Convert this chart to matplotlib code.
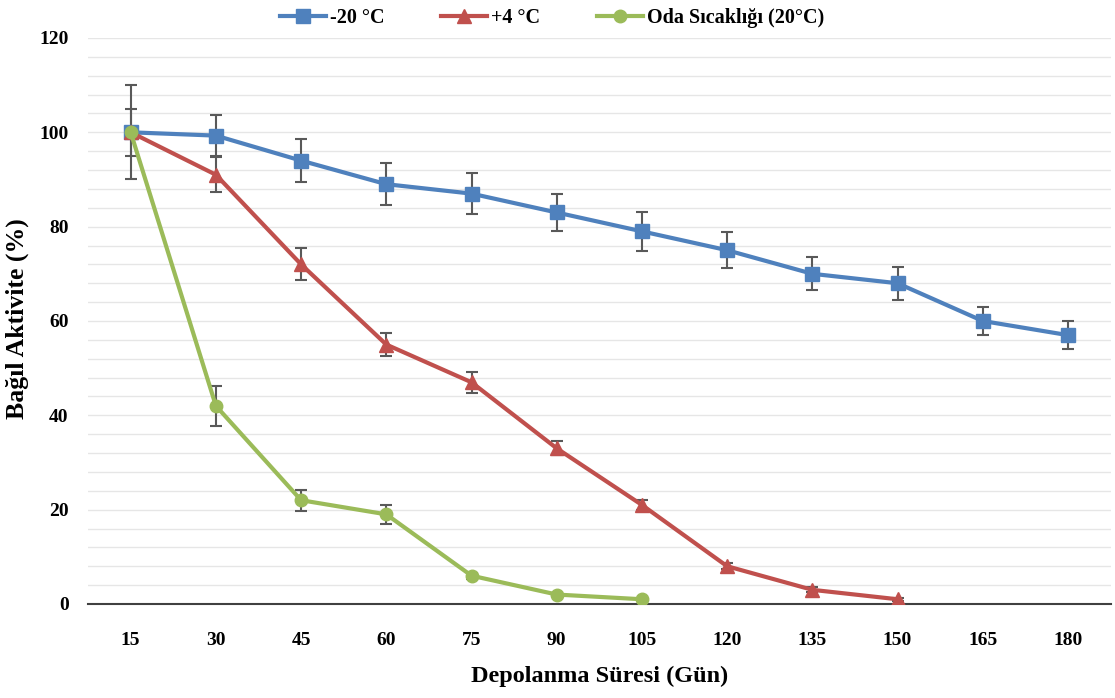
import numpy as np
import matplotlib.pyplot as plt

# depolanma süresi (gün)
days = ['15', '30', '45', '60', '75', '90', '105', '120', '135', '150', '165', '180']

# -20 °C
blue_vals = [100, 99.3, 94, 89, 87, 83, 79, 75, 70, 68, 60, 57]
blue_err = [5, 4.3, 4.6, 4.4, 4.3, 4.0, 4.1, 3.8, 3.5, 3.5, 3.0, 3.0]
# +4 °C
red_vals = [100, 91, 72, 55, 47, 33, 21, 8, 3, 1]
red_err = [10, 3.7, 3.4, 2.5, 2.2, 1.5, 1.0, 0.6, 0.5, 0.3]
# oda sıcaklığı
green_vals = [100, 42, 22, 19, 6, 2, 1]
green_err = [0, 4.3, 2.2, 2.0, 0.6, 0.4, 0.3]

plt.rcParams['font.family'] = ['Liberation Serif', 'DejaVu Serif']
plt.rcParams['font.weight'] = 'bold'

fig = plt.figure(figsize=(11.15, 6.98), dpi=100)
ax = fig.add_axes([0.079, 0.1347, 0.917, 0.8109])

x = np.arange(len(days))

series = [
    (blue_vals, blue_err, '#4F81BD', 's', 10.5, '-20 \u00b0C'),
    (red_vals, red_err, '#C0504D', '^', 10.5, '+4 \u00b0C'),
    (green_vals, green_err, '#9BBB59', 'o', 9, 'Oda S\u0131cakl\u0131\u011f\u0131 (20\u00b0C)'),
]
for i, (vals, err, col, mk, ms, lab) in enumerate(series):
    xs = x[:len(vals)]
    ax.errorbar(xs, vals, yerr=err, fmt='none', ecolor='#595959', elinewidth=1.5,
                capsize=4, capthick=1.5, zorder=2 + i)
    ax.plot(xs, vals, color=col, lw=3, marker=mk, ms=ms, label=lab, zorder=5 + i)

ax.set_xlim(-0.5, len(days) - 0.5)
ax.set_ylim(0, 120)
ax.set_xticks(x)
ax.set_xticklabels(days)
ax.set_yticks(np.arange(0, 121, 20))
ax.set_yticks(np.arange(0, 121, 4), minor=True)
ax.grid(axis='y', which='both', color='#E6E6E6', lw=1)
ax.set_axisbelow(True)
ax.tick_params(axis='both', which='both', length=0, labelsize=14)
ax.tick_params(axis='x', pad=20)
ax.tick_params(axis='y', pad=14)

for s in ['top', 'right', 'left']:
    ax.spines[s].set_visible(False)
ax.spines['bottom'].set_color('#404040')
ax.spines['bottom'].set_linewidth(1.5)
ax.spines['bottom'].set_zorder(1)

ax.set_xlabel('Depolanma S\u00fcresi (G\u00fcn)', fontsize=17.5, fontweight='bold', labelpad=12)
ax.set_ylabel('Ba\u011f\u0131l Aktivite (%)', fontsize=18.5, fontweight='bold')
ax.yaxis.set_label_coords(-0.058, 0.505)

fig.legend(loc='upper center', bbox_to_anchor=(0.495, 1.015), ncol=3, frameon=False,
           fontsize=14.5, handlelength=2.3, columnspacing=2.8, handletextpad=0.2)

fig.savefig('out.png', dpi=100)
